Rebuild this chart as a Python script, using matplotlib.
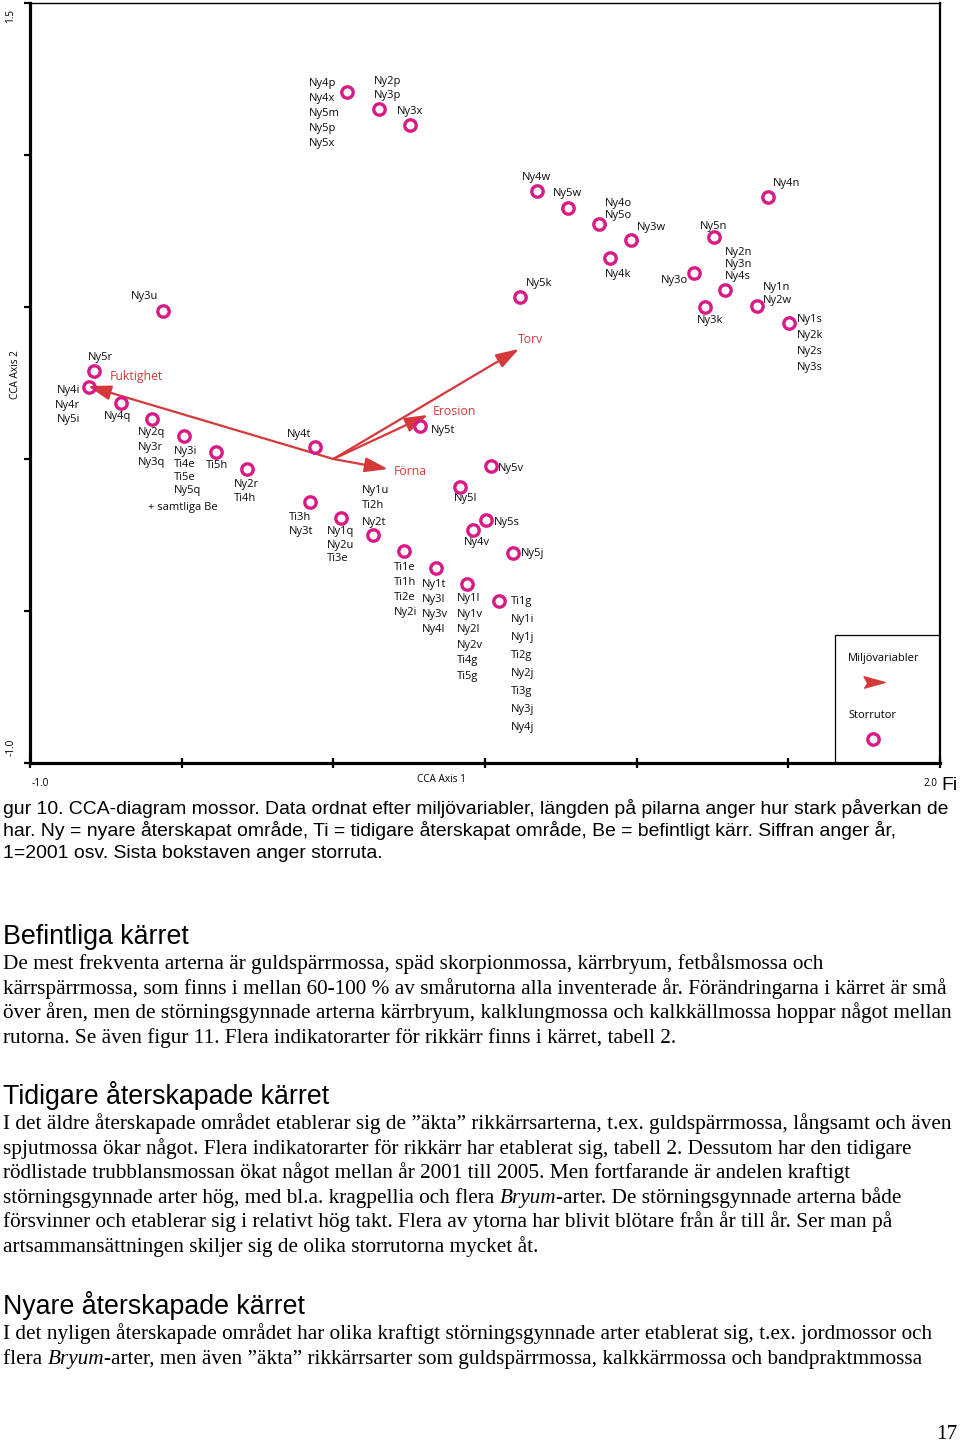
import matplotlib
matplotlib.use('Agg')
import matplotlib.pyplot as plt
from matplotlib.patches import Rectangle
import numpy as np

W, H, DPI = 960, 1444, 100

# ---------------- data ----------------
site_x = [0.045, 0.151, 0.253, -0.562, -0.789, -0.805, -0.700, -0.598, -0.492, -0.387,
          -0.285, -0.060, 0.286, -0.077, 0.025, 0.131, 0.233, 0.338, 0.441, 0.546,
          0.418, 0.520, 0.503, 0.460, 0.592, 0.615, 0.671, 0.774, 0.876, 0.981,
          0.912, 1.189, 1.255, 1.291, 1.225, 1.433, 1.397, 1.502]
site_y = [1.207, 1.151, 1.099, 0.487, 0.289, 0.237, 0.184, 0.132, 0.076, 0.023,
          -0.033, 0.039, 0.109, -0.141, -0.194, -0.250, -0.303, -0.359, -0.411, -0.467,
          -0.092, -0.023, -0.201, -0.234, -0.309, 0.533, 0.882, 0.826, 0.773, 0.720,
          0.661, 0.612, 0.730, 0.556, 0.500, 0.862, 0.503, 0.447]
site_labels = [
    ["Ny4p", "Ny4x", "Ny5m", "Ny5p", "Ny5x"], ["Ny2p", "Ny3p"], ["Ny3x"], ["Ny3u"], ["Ny5r"],
    ["Ny4i", "Ny4r", "Ny5i"], ["Ny4q"], ["Ny2q", "Ny3r", "Ny3q"], ["Ny3i", "Ti4e", "Ti5e", "Ny5q"],
    ["Ti5h"], ["Ny2r", "Ti4h"], ["Ny4t"], ["Ny5t"], ["Ti3h", "Ny3t"], ["Ny1q", "Ny2u", "Ti3e"],
    ["Ny1u", "Ti2h", "Ny2t"], ["Ti1e", "Ti1h", "Ti2e", "Ny2i"], ["Ny1t", "Ny3l", "Ny3v", "Ny4l"],
    ["Ny1l", "Ny1v", "Ny2l", "Ny2v", "Ti4g", "Ti5g"],
    ["Ti1g", "Ny1i", "Ny1j", "Ti2g", "Ny2j", "Ti3g", "Ny3j", "Ny4j"],
    ["Ny5l"], ["Ny5v"], ["Ny5s"], ["Ny4v"], ["Ny5j"], ["Ny5k"], ["Ny4w"], ["Ny5w"],
    ["Ny4o", "Ny5o"], ["Ny3w"], ["Ny4k"], ["Ny3o"], ["Ny5n"], ["Ny2n", "Ny3n", "Ny4s"],
    ["Ny3k"], ["Ny4n"], ["Ny1n", "Ny2w"], ["Ny1s", "Ny2k", "Ny2s", "Ny3s"],
]
extra_note = "+ samtliga Be"

env_names = ["Fuktighet", "Förna", "Erosion", "Torv"]
env_x = [-0.809, 0.180, 0.312, 0.612]
env_y = [0.240, -0.033, 0.145, 0.362]

x_range = (-1.0, 2.0)
y_range = (-1.0, 1.5)
x_axis_title = "CCA Axis 1"
y_axis_title = "CCA Axis 2"
legend_titles = ["Miljövariabler", "Storrutor"]

caption_lines = [
    "gur 10. CCA-diagram mossor. Data ordnat efter miljövariabler, längden på pilarna anger hur stark påverkan de",
    "har. Ny = nyare återskapat område, Ti = tidigare återskapat område, Be = befintligt kärr. Siffran anger år,",
    "1=2001 osv. Sista bokstaven anger storruta.",
]
headings = ["Befintliga kärret", "Tidigare återskapade kärret", "Nyare återskapade kärret"]
para1 = [
    [("De mest frekventa arterna är guldspärrmossa, späd skorpionmossa, kärrbryum, fetbålsmossa och", "normal")],
    [("kärrspärrmossa, som finns i mellan 60-100 % av smårutorna alla inventerade år. Förändringarna i kärret är små", "normal")],
    [("över åren, men de störningsgynnade arterna kärrbryum, kalklungmossa och kalkkällmossa hoppar något mellan", "normal")],
    [("rutorna. Se även figur 11. Flera indikatorarter för rikkärr finns i kärret, tabell 2.", "normal")],
]
para2 = [
    [("I det äldre återskapade området etablerar sig de ”äkta” rikkärrsarterna, t.ex. guldspärrmossa, långsamt och även", "normal")],
    [("spjutmossa ökar något. Flera indikatorarter för rikkärr har etablerat sig, tabell 2. Dessutom har den tidigare", "normal")],
    [("rödlistade trubblansmossan ökat något mellan år 2001 till 2005. Men fortfarande är andelen kraftigt", "normal")],
    [("störningsgynnade arter hög, med bl.a. kragpellia och flera ", "normal"), ("Bryum", "italic"),
     ("-arter. De störningsgynnade arterna både", "normal")],
    [("försvinner och etablerar sig i relativt hög takt. Flera av ytorna har blivit blötare från år till år. Ser man på", "normal")],
    [("artsammansättningen skiljer sig de olika storrutorna mycket åt.", "normal")],
]
para3 = [
    [("I det nyligen återskapade området har olika kraftigt störningsgynnade arter etablerat sig, t.ex. jordmossor och", "normal")],
    [("flera ", "normal"), ("Bryum", "italic"),
     ("-arter, men även ”äkta” rikkärrsarter som guldspärrmossa, kalkkärrmossa och bandpraktmmossa", "normal")],
]
page_number = "17"

# ---------------- styles / layout ----------------
# label placement: (dx px, dy px downward for first line, line spacing px, ha)
label_pos = [
    (-38, -9, 15, 'left'), (-5, -28, 14, 'left'), (-13, -13, 0, 'left'), (-5, -14, 0, 'right'),
    (-6, -14, 0, 'left'), (-9, 4, 14.5, 'right'), (-17, 13, 0, 'left'), (-14, 14, 15, 'left'),
    (-10, 16, 13, 'left'), (-10, 13, 0, 'left'), (-13, 15, 14, 'left'), (-4, -13, 0, 'right'),
    (11, 5, 0, 'left'), (-21, 16, 14, 'left'), (-14, 14, 13.5, 'left'), (-11, -45, 16, 'left'),
    (-10, 16, 15, 'left'), (-14, 16, 15, 'left'), (-10, 15, 15.5, 'left'), (12, 1, 18, 'left'),
    (-6, 12, 0, 'left'), (7, 3, 0, 'left'), (8, 2, 0, 'left'), (-9, 12, 0, 'left'),
    (8, 1, 0, 'left'), (6, -13, 0, 'left'), (-15, -13, 0, 'left'), (-15, -14, 0, 'left'),
    (6, -21, 12, 'left'), (6, -13, 0, 'left'), (-5, 16, 0, 'left'), (-6, 8, 0, 'right'),
    (-14, -11, 0, 'left'), (0, -37, 12, 'left'), (-8, 14, 0, 'left'), (5, -13, 0, 'left'),
    (6, -19, 13, 'left'), (8, -4, 16, 'left'),
]
extra_note_pos = (8, -36, 72)  # (site index, dx, dy)
env_label_pos = [(22, -10), (6, 2), (5, -3), (-1, -9)]

MAGENTA = '#d91a86'
RED = '#d5383b'
SANS = ['Open Sans', 'DejaVu Sans']
LBL_SIZE = 8.0
LBL_WEIGHT = 'medium'

def fx(x):
    return x / W

def fy(y):
    return 1 - y / H

fig = plt.figure(figsize=(W / DPI, H / DPI), dpi=DPI)
ax = fig.add_axes([fx(30), fy(763), (940 - 30) / W, (763 - 3) / H])
ax.set_xlim(*x_range)
ax.set_ylim(*y_range)

for side, lw in [('left', 2.3), ('bottom', 2.3), ('top', 1.0), ('right', 1.6)]:
    ax.spines[side].set_linewidth(lw)
    ax.spines[side].set_color('black')
ax.set_xticks(np.arange(x_range[0], x_range[1] + 0.01, 0.5))
ax.set_yticks(np.arange(y_range[0], y_range[1] + 0.01, 0.5))
ax.tick_params(axis='x', direction='inout', length=7, width=1.6, labelbottom=False)
ax.tick_params(axis='y', direction='out', length=4, width=1.6, labelleft=False)

# arrows
for name, ex, ey, (dx, dy) in zip(env_names, env_x, env_y, env_label_pos):
    ax.annotate('', xy=(ex, ey), xytext=(0, 0),
                arrowprops=dict(arrowstyle='-|>,head_length=1.0,head_width=0.32',
                                color=RED, lw=1.6, shrinkA=0, shrinkB=0, mutation_scale=14))
    ax.annotate(name, xy=(ex, ey), xytext=(dx, -dy), textcoords='offset pixels',
                ha='left', va='center', color=RED, fontsize=8.8, family=SANS, weight=LBL_WEIGHT)

# sites
ax.plot(site_x, site_y, linestyle='none', marker='o', ms=8.2, mfc='none',
        mec=MAGENTA, mew=2.4, zorder=5)
for sx, sy, labs, (dx, dy, sp, ha) in zip(site_x, site_y, site_labels, label_pos):
    for i, lab in enumerate(labs):
        ax.annotate(lab, xy=(sx, sy), xytext=(dx, -(dy + i * sp)), textcoords='offset pixels',
                    ha=ha, va='center', fontsize=LBL_SIZE, family=SANS, weight=LBL_WEIGHT,
                    color='#0a0a0a')
ix, dx, dy = extra_note_pos
ax.annotate(extra_note, xy=(site_x[ix], site_y[ix]), xytext=(dx, -dy), textcoords='offset pixels',
            ha='left', va='center', fontsize=LBL_SIZE, family=SANS, weight=LBL_WEIGHT, color='#0a0a0a')

# legend box
lx0, ly0 = (835 - 30) / 910, 0
ax.add_patch(Rectangle((lx0, ly0), 1 - lx0, (763 - 635) / 760, transform=ax.transAxes,
                       fill=False, edgecolor='black', lw=0.9, zorder=6))
ax.text((848 - 30) / 910, (763 - 658) / 760, legend_titles[0], transform=ax.transAxes,
        ha='left', va='center', fontsize=LBL_SIZE, family=SANS, weight=LBL_WEIGHT)
ax.text((848 - 30) / 910, (763 - 715) / 760, legend_titles[1], transform=ax.transAxes,
        ha='left', va='center', fontsize=LBL_SIZE, family=SANS, weight=LBL_WEIGHT)
tri = [(-1, -0.55), (1, 0), (-1, 0.55), (-0.7, 0)]
ax.plot([(874 - 30) / 910], [(763 - 682) / 760], transform=ax.transAxes, marker=tri, ms=15,
        color=RED, mec=RED, linestyle='none')
ax.plot([(873 - 30) / 910], [(763 - 739) / 760], transform=ax.transAxes, marker='o', ms=8.2,
        mfc='none', mec=MAGENTA, mew=2.4, linestyle='none')

# axis end labels and titles
AX_KW = dict(fontsize=7.2, family=SANS, weight=LBL_WEIGHT)
fig.text(fx(11), fy(16), f"{y_range[1]:.1f}", rotation=90, ha='center', va='center', **AX_KW)
fig.text(fx(11), fy(747), f"{y_range[0]:.1f}", rotation=90, ha='center', va='center', **AX_KW)
fig.text(fx(40), fy(784), f"{x_range[0]:.1f}", ha='center', va='center', **AX_KW)
fig.text(fx(931), fy(784), f"{x_range[1]:.1f}", ha='center', va='center', **AX_KW)
fig.text(fx(441), fy(779), x_axis_title, ha='center', va='center', **AX_KW)
fig.text(fx(15), fy(375), y_axis_title, rotation=90, ha='center', va='center', **AX_KW)

# ---------------- page text ----------------
renderer = fig.canvas.get_renderer()

def fit_size(text, family, target, style='normal'):
    t = fig.text(0, 0, text, fontsize=10, family=family, style=style)
    w = t.get_window_extent(renderer).width
    t.remove()
    return 10 * target / w

def draw_segments(segs, x, y, size, family):
    cur = x
    for s, style in segs:
        t = fig.text(fx(cur), fy(y), s, fontsize=size, family=family, style=style,
                     ha='left', va='baseline')
        cur += t.get_window_extent(renderer).width

CAP_FONT = ['Liberation Sans', 'DejaVu Sans']
SERIF = ['Liberation Serif', 'DejaVu Serif']

cap_size = fit_size(caption_lines[0], CAP_FONT, 945)
fig.text(fx(941), fy(790), "Fi", fontsize=cap_size, family=CAP_FONT, ha='left', va='baseline')
for i, line in enumerate(caption_lines):
    fig.text(fx(3), fy(814 + 22 * i), line, fontsize=cap_size, family=CAP_FONT, ha='left', va='baseline')

head_size = fit_size(headings[0], CAP_FONT, 187)
body_size = fit_size(para1[0][0][0], SERIF, 821)

blocks = [(headings[0], 944, para1, 969), (headings[1], 1104, para2, 1129), (headings[2], 1314, para3, 1339)]
for head, hy, para, py in blocks:
    fig.text(fx(3), fy(hy), head, fontsize=head_size, family=CAP_FONT, ha='left', va='baseline')
    for i, segs in enumerate(para):
        draw_segments(segs, 3, py + 24.6 * i, body_size, SERIF)

fig.text(fx(957), fy(1439), page_number, fontsize=body_size, family=SERIF, ha='right', va='baseline')

fig.savefig('out.png', dpi=DPI, facecolor='white')
